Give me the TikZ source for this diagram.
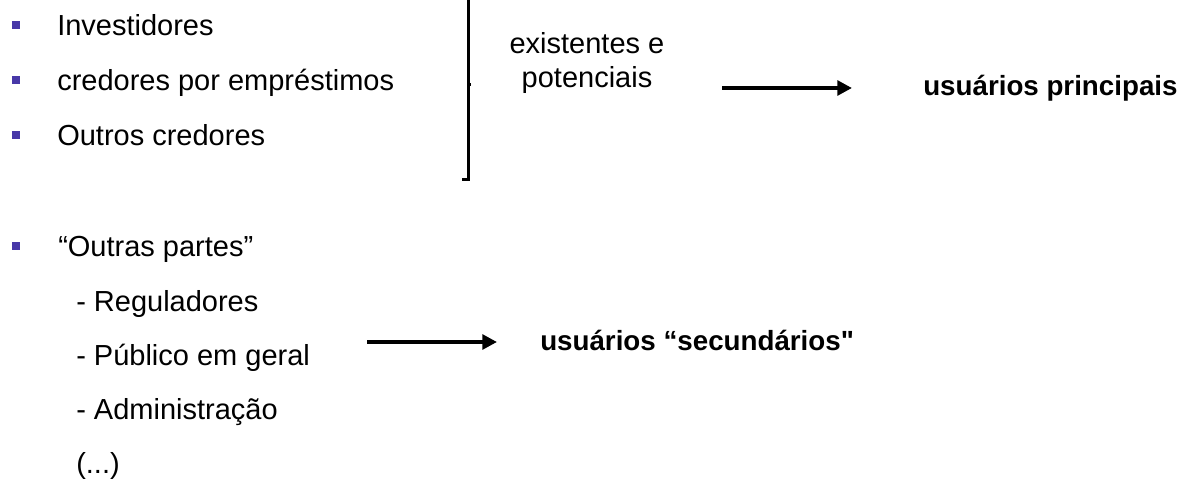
\documentclass[tikz,border=0pt]{standalone}
\usepackage{fontspec}
\setmainfont{Liberation Sans}[Ligatures=TeXOff]
\usetikzlibrary{arrows.meta}
\definecolor{bulletblue}{RGB}{72,56,168}

\begin{document}
\begin{tikzpicture}[x=0.75pt, y=-0.75pt,
        txt/.style={anchor=base west, inner sep=0pt, font=\fontsize{21.75}{26}\selectfont},
        mid/.style={txt, anchor=base},
        strong/.style={txt, font=\fontsize{20.8}{25}\selectfont\bfseries},
        bullet/.style={fill=bulletblue, minimum size=6.5pt, inner sep=0pt},
        arr/.style={-{Triangle[length=11pt, width=11pt]}, line width=3pt},
        bracket/.style={line width=2.25pt}]
        \useasboundingbox (0, 0) rectangle (1183, 481);

        % first group
        \node[bullet] (b1) at (16, 25) {};
        \node[bullet] (b2) at (16, 80) {};
        \node[bullet] (b3) at (16, 135) {};
        \node[txt] (inv) at (57, 36) {Investidores};
        \node[txt] (cred) at (57, 91) {credores por empréstimos};
        \node[txt] (outros) at (57, 146) {Outros credores};

        % bracket
        \draw[bracket] (468, 0) -- (468, 180) -- (462, 180);
        \draw[bracket] (468, 85) -- (471, 85);

        % existing and potential
        \node[mid] (exist) at (587, 54) {existentes e};
        \node[mid] (pot) at (587, 88) {potenciais};

        % primary users
        \node[strong] (prin) at (923, 96) {usuários principais};
        \coordinate (a1s) at (722, 88);
        \coordinate (a1e) at (852, 88);
        \draw[arr] (a1s) -- (a1e);

        % other parties
        \node[bullet] (b4) at (16, 246) {};
        \node[txt] (outras) at (58, 257) {“Outras partes”};
        \node[txt] (reg) at (76, 311) {- Reguladores};
        \node[txt] (pub) at (76, 365) {- Público em geral};
        \node[txt] (adm) at (76, 419) {- Administração};
        \node[txt] (etc) at (76, 473) {(...)};

        % secondary users
        \node[strong] (sec) at (540, 350) {usuários “secundários"};
        \coordinate (a2s) at (367, 342);
        \coordinate (a2e) at (497, 342);
        \draw[arr] (a2s) -- (a2e);

\end{tikzpicture}
\end{document}
